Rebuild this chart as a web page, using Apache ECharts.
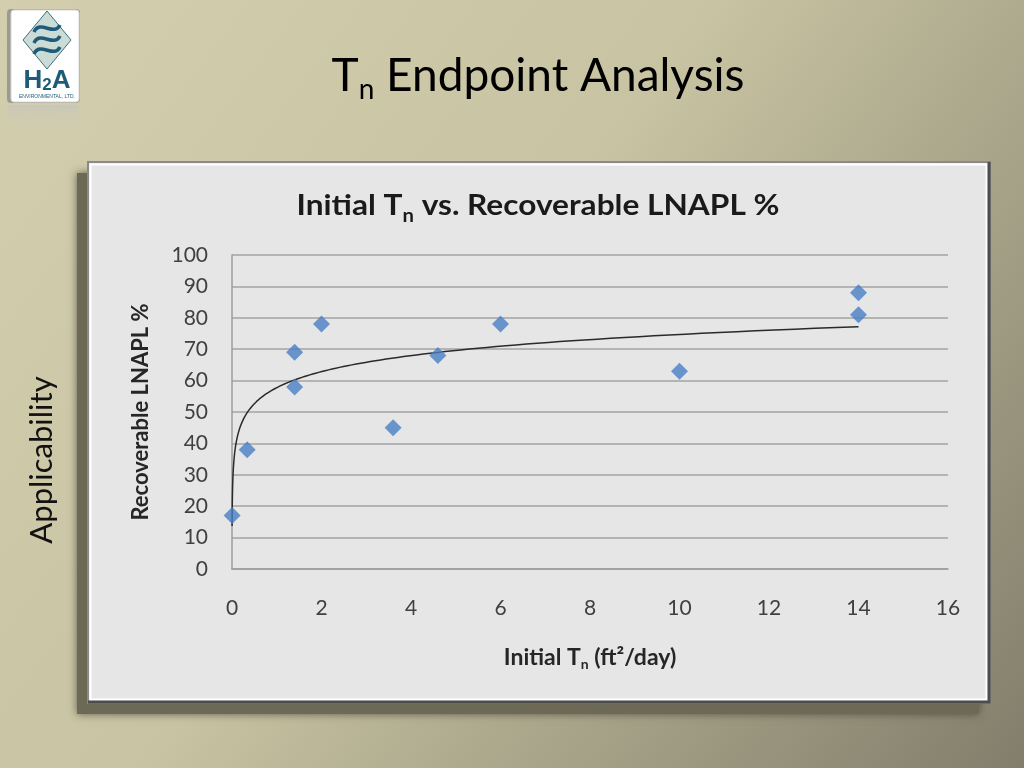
<!DOCTYPE html>
<html>
<head>
<meta charset="utf-8">
<script src="https://cdn.jsdelivr.net/npm/echarts@6/dist/echarts.min.js"></script>
<style>
html,body{margin:0;padding:0;width:1024px;height:768px;overflow:hidden;}
#chart{width:1024px;height:768px;}
</style>
</head>
<body>
<div id="chart"></div>
<script>
// ---- data ----
var tnValues  = [0.0025, 0.34, 1.4, 1.4, 2.0, 3.6, 4.6, 6.0, 10.0, 14.0, 14.0];   // Initial Tn (ft2/day)
var recValues = [17, 38, 69, 58, 78, 45, 68, 78, 63, 88, 81];                    // Recoverable LNAPL %
var xTicks = [0, 2, 4, 6, 8, 10, 12, 14, 16];
var yTicks = [0, 10, 20, 30, 40, 50, 60, 70, 80, 90, 100];

// Logarithmic trendline: least-squares fit of recValues on ln(tnValues), as in the source chart
function logFit(xs, ys) {
  var n = xs.length, sl = 0, sy = 0, sll = 0, sly = 0;
  for (var i = 0; i < n; i++) {
    var l = Math.log(xs[i]);
    sl += l; sy += ys[i]; sll += l * l; sly += l * ys[i];
  }
  var a = (n * sly - sl * sy) / (n * sll - sl * sl);
  var b = (sy - a * sl) / n;
  return {a: a, b: b};
}
var fit = logFit(tnValues, recValues);
var xMin = Math.min.apply(null, tnValues), xMax = Math.max.apply(null, tnValues);
var trendData = [];
var N = 240;
for (var k = 0; k <= N; k++) {
  var lx = Math.log(xMin) + (Math.log(xMax) - Math.log(xMin)) * k / N;
  trendData.push([Math.exp(lx), fit.a * lx + fit.b]);
}
var scatterData = tnValues.map(function (x, i) { return [x, recValues[i]]; });

var chart = echarts.init(document.getElementById('chart'), null, {renderer: 'canvas'});
var FONT = 'Lato, "Open Sans", sans-serif';
var teal = '#1f5b78';

var option = {
  backgroundColor: {
    type: 'linear', x: 0, y: 0, x2: 1, y2: 1,
    colorStops: [
      {offset: 0, color: '#d3ceae'},
      {offset: 0.45, color: '#c8c3a2'},
      {offset: 1, color: '#827e6b'}
    ]
  },
  animation: false,
  graphic: [
    // panel shadow
    {type: 'rect', z: -20, shape: {x: 77, y: 173, width: 902, height: 541},
     style: {fill: '#6c6a57', shadowBlur: 8, shadowColor: 'rgba(70,68,55,0.8)'}},
    // panel
    {type: 'rect', z: -19, shape: {x: 88, y: 162, width: 902, height: 541},
     style: {fill: '#e6e6e6', stroke: '#8a8a8a', lineWidth: 2}},
    {type: 'rect', z: -18, shape: {x: 90.5, y: 164.5, width: 896, height: 535},
     style: {fill: 'none', stroke: '#ffffff', lineWidth: 2}},
    {type: 'polyline', z: -17, shape: {points: [[989, 162], [989, 702], [88, 702]]},
     style: {stroke: '#4d4d4d', lineWidth: 3, fill: 'none'}},
    // slide title
    {type: 'text', z: 5, x: 538, y: 76,
     style: {
       text: '{a|T}{s|n}{a| Endpoint Analysis}',
       align: 'center', verticalAlign: 'middle',
       rich: {
         a: {fontFamily: FONT, fontSize: 46, fill: '#000000', lineHeight: 50},
         s: {fontFamily: FONT, fontSize: 28, fill: '#000000', verticalAlign: 'top', padding: [25, 0, 0, 0], lineHeight: 20}
       }
     }},
    // side label
    {type: 'text', z: 5, x: 42, y: 460, rotation: Math.PI / 2,
     style: {text: 'Applicability', fontFamily: FONT, fontSize: 31, fill: '#111111',
             align: 'center', verticalAlign: 'middle'}},
    // chart title
    {type: 'text', z: 5, x: 538, y: 206, scaleX: 1.13,
     style: {
       text: '{a|Initial T}{s|n}{a| vs. Recoverable LNAPL %}',
       align: 'center', verticalAlign: 'middle',
       rich: {
         a: {fontFamily: FONT, fontWeight: 'bold', fontSize: 28, fill: '#1a1a1a', lineHeight: 32},
         s: {fontFamily: FONT, fontWeight: 'bold', fontSize: 18, fill: '#1a1a1a', verticalAlign: 'top', padding: [17, 0, 0, 0], lineHeight: 10}
       }
     }},
    // logo reflection
    {type: 'rect', z: 1, shape: {x: 8, y: 105, width: 71, height: 26, r: 2},
     style: {fill: {type: 'linear', x: 0, y: 0, x2: 0, y2: 1,
       colorStops: [{offset: 0, color: 'rgba(200,198,185,0.9)'}, {offset: 1, color: 'rgba(210,205,180,0)'}]}}},
    // logo card
    {type: 'rect', z: 1, shape: {x: 7, y: 9, width: 73, height: 94, r: 4},
     style: {fill: '#9a9a92'}},
    {type: 'rect', z: 2, shape: {x: 11, y: 10, width: 68, height: 92, r: 3},
     style: {fill: '#ffffff', stroke: '#d8d8d8', lineWidth: 1}},
    {type: 'polygon', z: 3, shape: {points: [[47, 11], [71, 40], [47, 69], [23, 40]]},
     style: {fill: '#cadcd5', stroke: '#3b6d80', lineWidth: 1}},
    {type: 'bezierCurve', z: 4, shape: {x1: 34, y1: 32, cpx1: 40, cpy1: 19, cpx2: 54, cpy2: 37, x2: 60, y2: 25},
     style: {stroke: teal, lineWidth: 3.5, fill: 'none'}},
    {type: 'bezierCurve', z: 4, shape: {x1: 34, y1: 43, cpx1: 40, cpy1: 30, cpx2: 54, cpy2: 48, x2: 60, y2: 36},
     style: {stroke: teal, lineWidth: 3.5, fill: 'none'}},
    {type: 'bezierCurve', z: 4, shape: {x1: 34, y1: 54, cpx1: 40, cpy1: 41, cpx2: 54, cpy2: 59, x2: 60, y2: 47},
     style: {stroke: teal, lineWidth: 3.5, fill: 'none'}},
    {type: 'text', z: 4, x: 47, y: 81,
     style: {
       text: '{h|H}{t|2}{h|A}', align: 'center', verticalAlign: 'middle',
       rich: {
         h: {fontFamily: '"Liberation Sans", Arial, sans-serif', fontWeight: 'bold', fontSize: 26, fill: teal, verticalAlign: 'bottom', lineHeight: 26},
         t: {fontFamily: '"Liberation Sans", Arial, sans-serif', fontWeight: 'bold', fontSize: 17, fill: teal, verticalAlign: 'bottom', lineHeight: 20}
       }
     }},
    {type: 'text', z: 4, x: 47, y: 97,
     style: {text: 'ENVIRONMENTAL, LTD.', fontFamily: '"Liberation Sans", Arial, sans-serif', fontSize: 5,
             fill: teal, align: 'center', verticalAlign: 'middle'}}
  ],
  grid: {left: 232, right: 76, top: 255, bottom: 199, containLabel: false},
  xAxis: {
    type: 'value', min: xTicks[0], max: xTicks[xTicks.length - 1], interval: xTicks[1] - xTicks[0],
    axisLine: {show: true, lineStyle: {color: '#9c9c9c', width: 1.5}},
    axisTick: {show: false},
    splitLine: {show: false},
    axisLabel: {fontFamily: FONT, fontSize: 21, color: '#404040', margin: 29},
    name: '{b|Initial T}{s|n}{b| (ft²/day)}',
    nameLocation: 'middle', nameGap: 76,
    nameTextStyle: {
      rich: {
        b: {fontFamily: FONT, fontWeight: 'bold', fontSize: 23, color: '#262626', lineHeight: 26},
        s: {fontFamily: FONT, fontWeight: 'bold', fontSize: 14, color: '#262626', verticalAlign: 'top', padding: [12, 0, 0, 0], lineHeight: 12}
      }
    }
  },
  yAxis: {
    type: 'value', min: yTicks[0], max: yTicks[yTicks.length - 1], interval: yTicks[1] - yTicks[0],
    axisLine: {show: true, lineStyle: {color: '#9c9c9c', width: 1.5}},
    axisTick: {show: false},
    splitLine: {show: true, lineStyle: {color: '#a3a3a3', width: 1.5}},
    axisLabel: {fontFamily: FONT, fontSize: 21, color: '#404040', margin: 24},
    name: 'Recoverable LNAPL %',
    nameLocation: 'middle', nameGap: 80,
    nameTextStyle: {fontFamily: FONT, fontWeight: 'bold', fontSize: 22, color: '#262626'}
  },
  series: [
    {
      type: 'line', name: 'Log trend', data: trendData, showSymbol: false, silent: true,
      lineStyle: {color: '#2a2a2a', width: 1.5}, z: 2
    },
    {
      type: 'scatter', name: 'Recoverable LNAPL %', data: scatterData,
      symbol: 'diamond', symbolSize: 17,
      itemStyle: {color: '#4a80c4'}, z: 3
    }
  ]
};
chart.setOption(option);
</script>
</body>
</html>
